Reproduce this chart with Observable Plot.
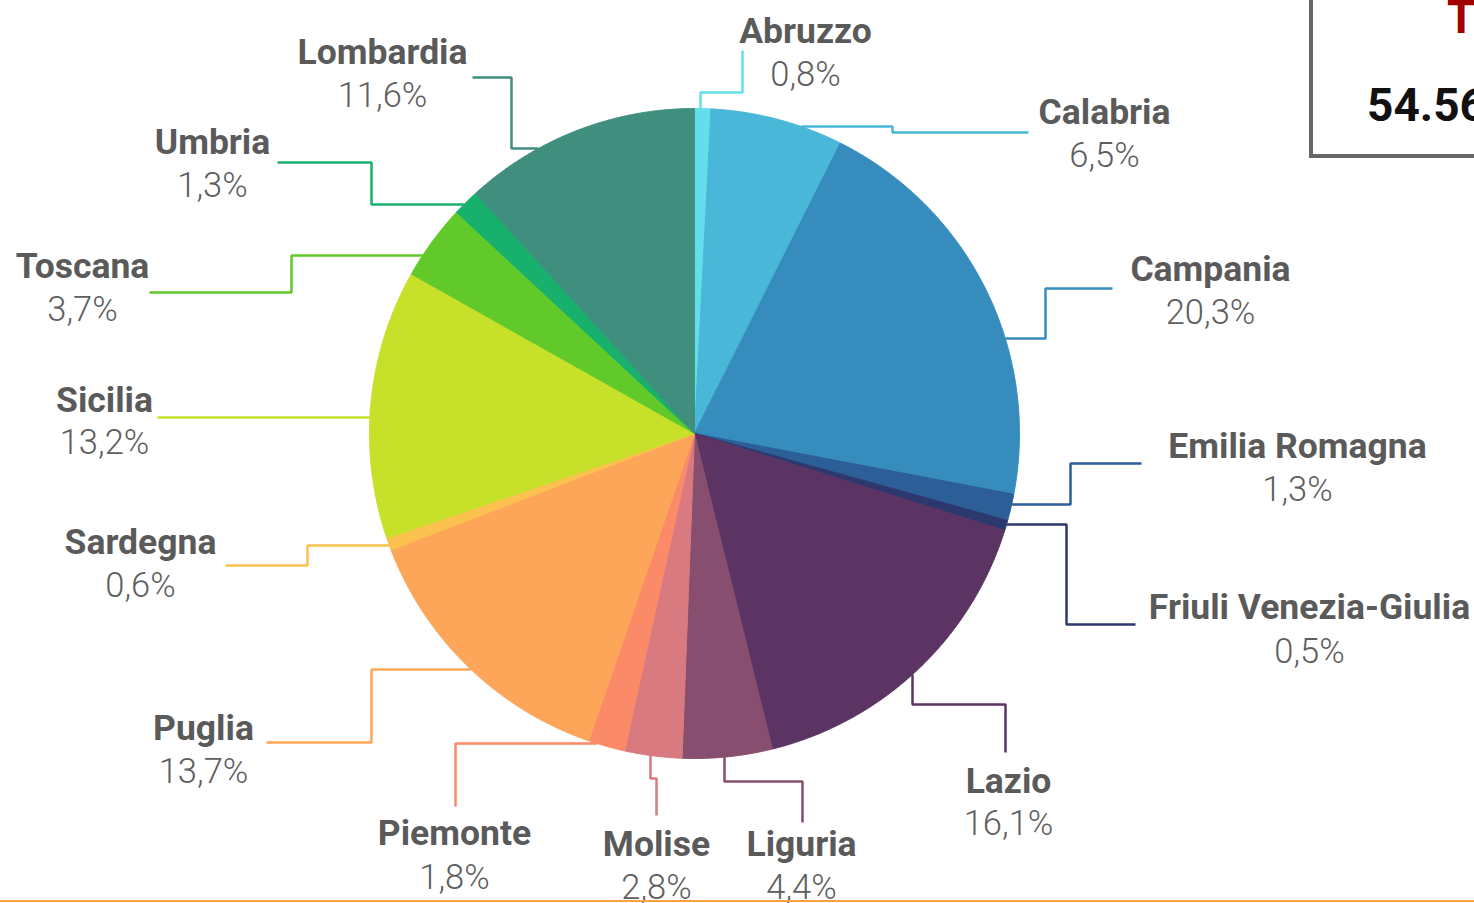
<!DOCTYPE html>
<html><head><meta charset="utf-8">
<script src="https://cdn.jsdelivr.net/npm/d3@7"></script>
<script src="https://cdn.jsdelivr.net/npm/@observablehq/plot@0.6"></script>
<style>
html,body{margin:0;padding:0;background:#fff;overflow:hidden}
#wrap{position:relative;width:1474px;height:903px}
#box{position:absolute;left:1309px;top:-10px;width:200px;height:160px;border:4px solid #666;box-sizing:content-box;font-family:Roboto,sans-serif;font-weight:700}
#box .t{position:absolute;left:134px;top:0px;font-size:46px;color:#a00000;line-height:1}
#box .n{position:absolute;left:54px;top:88px;font-size:46px;color:#111;line-height:1}
#rule{position:absolute;left:0;top:900px;width:1474px;height:0;border-top:2px solid #f8a13f}
</style>
</head><body><div id="wrap"><div id="chart"></div><div id="box"><span class="t">TOTALE</span><span class="n">54.560</span></div><div id="rule"></div></div>
<script>
// ---- data ----
const regions = ["Abruzzo","Calabria","Campania","Emilia Romagna","Friuli Venezia-Giulia","Lazio","Liguria","Molise","Piemonte","Puglia","Sardegna","Sicilia","Toscana","Umbria","Lombardia"];
const shares = [0.8,6.5,20.3,1.3,0.5,16.1,4.4,2.8,1.8,13.7,0.6,13.2,3.7,1.3,11.6];
const colors = ["#62dfea","#49b7d7","#368dbd","#2c5e98","#2c396e","#5b3464","#874e70","#d87a7f","#fb8a68","#fda65a","#fcc14e","#c7e029","#62c92b","#17b06c","#3f8e7e"];
const valueLabels = shares.map(v => v.toFixed(1).replace(".", ",") + "%");

// ---- layout (label centres and leader-line knees, in px) ----
const labelX  = [805,1104,1210,1297,1309,1008,801,656,454,203,140,104,82,212,382];
const nameY   = [30,111,268,445,606,780,843,843,832,727,541,399,265,141,51];
const valueY  = [73,154,311,488,650,822,886,886,876,770,584,441,308,184,94];
const leaderDir = ["v","h","h","h","h","v","v","v","h","h","h","h","h","h","h"];
const leaderKnees = [
  [[700,92],[742,92],[742,50]],
  [[892,126],[892,132],[1028,132]],
  [[1045,338],[1045,288],[1112,288]],
  [[1070,504],[1070,463],[1141,463]],
  [[1066,524],[1066,624],[1135,624]],
  [[912,704],[1005,704],[1005,752]],
  [[724,781],[802,781],[802,822]],
  [[650,778],[656,778],[656,815]],
  [[455,743],[455,806]],
  [[371,669],[371,742],[266,742]],
  [[307,545],[307,565],[225,565]],
  [[157,417]],
  [[291,255],[291,292],[149,292]],
  [[371,204],[371,162],[277,162]],
  [[511,148],[511,77],[472,77]]
];
const cx = 694, cy = 433, R = 325;

// ---- geometry ----
const pie = d3.pie().sort(null).value(d => d)(shares);
const pt = (a, r) => [cx + r * Math.sin(a), cy - r * Math.cos(a)];
const slices = pie.map((p, i) => {
  const pts = [[cx, cy]];
  const n = Math.max(4, Math.ceil((p.endAngle - p.startAngle) / 0.005));
  for (let k = 0; k <= n; k++) pts.push(pt(p.startAngle + (p.endAngle - p.startAngle) * k / n, R));
  pts.push([cx, cy]);
  return pts;
});
const leaders = leaderKnees.map((knees, i) => {
  const [kx, ky] = knees[0];
  let start;
  if (leaderDir[i] === "h") {
    const dx = Math.sqrt(Math.max(0, R*R - (ky-cy)*(ky-cy)));
    start = [kx < cx ? cx - dx : cx + dx, ky];
  } else {
    const dy = Math.sqrt(Math.max(0, R*R - (kx-cx)*(kx-cx)));
    start = [kx, ky < cy ? cy - dy : cy + dy];
  }
  return [start, ...knees];
});

const labels = regions.map((r, i) => ({name: r, value: valueLabels[i], x: labelX[i], yn: nameY[i] + 1, yv: valueY[i] + 1}));
const font = "Roboto, 'Noto Sans', sans-serif";

const marks = [];
slices.forEach((s, i) => marks.push(Plot.line(s, {x: d => d[0], y: d => d[1], fill: colors[i], stroke: colors[i], strokeWidth: 1, curve: "linear"})));
leaders.forEach((l, i) => marks.push(Plot.line(l, {x: d => d[0], y: d => d[1], stroke: colors[i], strokeWidth: 2.5, strokeLinejoin: "miter", strokeLinecap: "butt"})));
marks.push(Plot.text(labels, {x: "x", y: "yn", text: "name", fontSize: 35.5, fontWeight: 700, fill: "#5a5a5a", fontFamily: font, lineAnchor: "middle", textAnchor: "middle"}));
marks.push(Plot.text(labels, {x: "x", y: "yv", text: "value", fontSize: 34.5, fontWeight: 300, fill: "#5e5e5e", fontFamily: font, lineAnchor: "middle", textAnchor: "middle"}));

const chart = Plot.plot({
  width: 1474, height: 903, margin: 0,
  x: {domain: [0, 1474], range: [0, 1474], axis: null},
  y: {domain: [0, 903], range: [0, 903], axis: null},
  style: {background: "transparent", overflow: "visible"},
  marks
});
document.getElementById("chart").appendChild(chart);
</script>
</body></html>
